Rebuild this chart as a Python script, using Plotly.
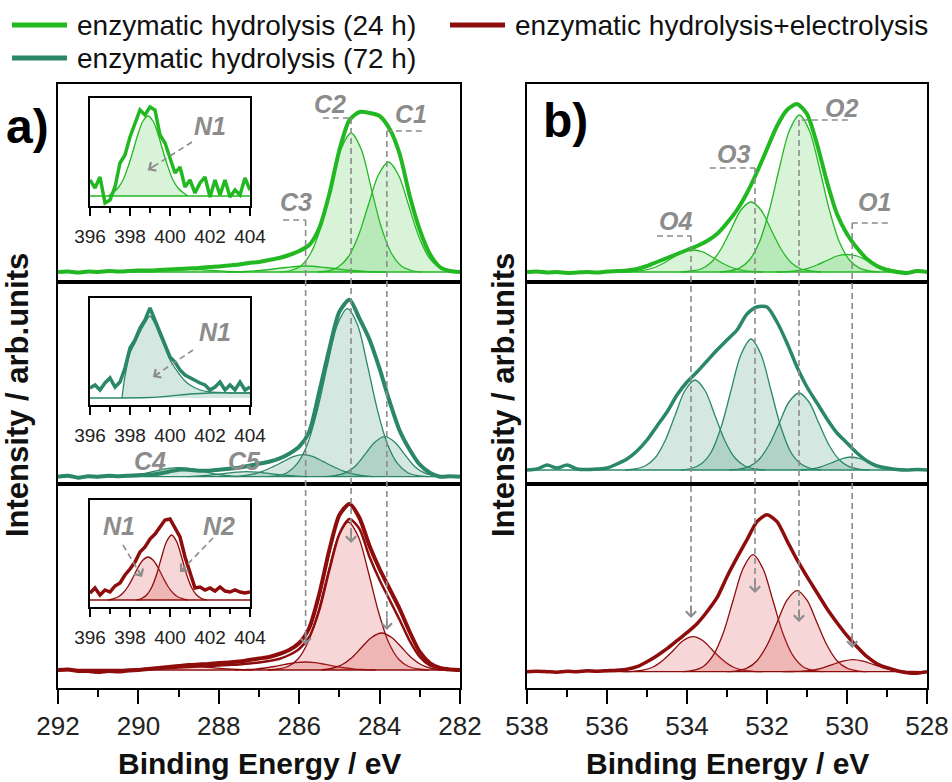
import plotly.graph_objects as go

# ---------------- data (binding energies in eV, intensities in arb. units above baseline) ----------------
BE_C = [292.0, 291.75, 291.5, 291.25, 291.0, 290.75, 290.5, 290.25, 290.0, 289.75, 289.5, 289.25, 289.0,
        288.75, 288.5, 288.25, 288.0, 287.75, 287.5, 287.25, 287.0, 286.75, 286.5, 286.25, 286.0,
        285.75, 285.5, 285.25, 285.0, 284.75, 284.5, 284.25, 284.0, 283.75, 283.5, 283.25, 283.0,
        282.75, 282.5, 282.25, 282.0]
BE_O = [538.0, 537.75, 537.5, 537.25, 537.0, 536.75, 536.5, 536.25, 536.0, 535.75, 535.5, 535.25, 535.0,
        534.75, 534.5, 534.25, 534.0, 533.75, 533.5, 533.25, 533.0, 532.75, 532.5, 532.25, 532.0,
        531.75, 531.5, 531.25, 531.0, 530.75, 530.5, 530.25, 530.0, 529.75, 529.5, 529.25, 529.0,
        528.75, 528.5, 528.25, 528.0]
BE_N = [396.0, 396.25, 396.5, 396.75, 397.0, 397.25, 397.5, 397.75, 398.0, 398.25, 398.5, 398.75, 399.0,
        399.25, 399.5, 399.75, 400.0, 400.25, 400.5, 400.75, 401.0, 401.25, 401.5, 401.75, 402.0,
        402.25, 402.5, 402.75, 403.0, 403.25, 403.5, 403.75, 404.0]

# C 1s envelopes
C_24H = [0, 0.5, -0.5, 0.5, 0, 1, 0.5, 1, 1.5, 1.5, 2, 2.5, 3, 3.5, 4, 5, 5.5, 6.5, 7.5, 9, 10, 12, 14, 17, 21,
         27, 44, 78, 122, 152, 160, 159, 156, 143, 118, 76, 42, 18, 5, 1, 0]
C_72H = [0, 1, -1, 0.5, 0, 1, 0.5, 1, 1.5, 2, 3, 5, 7, 7, 6, 6, 7, 8, 9, 11, 13, 15, 18, 23, 30,
         45, 85, 128, 165, 177, 158, 137, 108, 75, 46, 27, 12, 4, 0, 0.5, 0]
C_EL = [0, 0.5, -1, -1, -2, -1, -1.5, -0.5, 0, 1, 2, 3, 4, 5, 5.5, 6, 7, 7.5, 8.5, 10, 11.5, 13, 16, 20, 27,
        42, 76, 120, 155, 166, 152, 124, 101, 81, 61, 38, 18, 7, 2, 0.5, 0]
C_EL_FIT = [0, 0, 0, 0, 0, 0, 0, 0, 0.5, 1, 1.5, 2, 2.5, 3, 3.5, 4, 4.5, 5, 5.5, 6.5, 7.5, 9, 11, 15, 21,
            33, 60, 100, 136, 151, 141, 113, 90, 70, 50, 29, 13, 4.5, 1.5, 0.5, 0]

# C 1s components, 24 h
C1_24_X = [285.53, 285.28, 285.03, 284.78, 284.53, 284.28, 284.03, 283.78, 283.53, 283.28, 283.03, 282.78, 282.53, 282.28, 282.03]
C1_24_Y = [0, 1, 5, 15, 36, 67, 97, 110, 97, 67, 36, 15, 5, 1, 0]
C2_24_X = [286.46, 286.21, 285.96, 285.71, 285.46, 285.21, 284.96, 284.71, 284.46, 284.21, 283.96, 283.71, 283.46, 283.21, 282.96]
C2_24_Y = [0, 1.5, 6, 19, 45, 84, 123, 139, 123, 84, 45, 19, 6, 1.5, 0]
C3_24_X = [287.84, 287.34, 286.84, 286.34, 285.84, 285.34, 284.84, 284.34, 283.84]
C3_24_Y = [0, 0.5, 2, 4.5, 6, 4.5, 2, 0.5, 0]
C4_24_X = [290.4, 289.9, 289.4, 288.9, 288.4, 287.9, 287.4]
C4_24_Y = [0, 0.8, 2.2, 3, 2.2, 0.8, 0]

# C 1s components, 72 h
C1_72_X = [285.37, 285.12, 284.87, 284.62, 284.37, 284.12, 283.87, 283.62, 283.37, 283.12, 282.87, 282.62, 282.37]
C1_72_Y = [0, 1, 3.5, 10, 22, 34.5, 40, 34.5, 22, 10, 3.5, 1, 0]
C2_72_X = [286.8, 286.55, 286.3, 286.05, 285.8, 285.55, 285.3, 285.05, 284.8, 284.55, 284.3, 284.05, 283.8, 283.55, 283.3, 283.05, 282.8]
C2_72_Y = [0, 1, 4, 13, 32, 66, 111, 152, 168, 152, 111, 66, 32, 13, 4, 1, 0]
C3_72_X = [287.65, 287.4, 287.15, 286.9, 286.65, 286.4, 286.15, 285.9, 285.65, 285.4, 285.15, 284.9, 284.65, 284.4, 284.15]
C3_72_Y = [0, 1, 2.5, 5.5, 10, 15, 20, 22, 20, 15, 10, 5.5, 2.5, 1, 0]
C4_72_X = [290.5, 290.25, 290.0, 289.75, 289.5, 289.25, 289.0, 288.75, 288.5, 288.25, 288.0, 287.75, 287.5]
C4_72_Y = [0, 1, 2.2, 4.1, 6.4, 8.3, 9, 8.3, 6.4, 4.1, 2.2, 1, 0]
C5_72_X = [288.8, 288.55, 288.3, 288.05, 287.8, 287.55, 287.3, 287.05, 286.8, 286.55, 286.3, 286.05, 285.8]
C5_72_Y = [0, 0.5, 1.2, 2.3, 3.5, 4.6, 5, 4.6, 3.5, 2.3, 1.2, 0.5, 0]

# C 1s components, hydrolysis + electrolysis
C1_EL_X = [285.45, 285.2, 284.95, 284.7, 284.45, 284.2, 283.95, 283.7, 283.45, 283.2, 282.95, 282.7, 282.45]
C1_EL_Y = [0, 1.5, 5, 12, 22.5, 32.5, 37, 32.5, 22.5, 12, 5, 1.5, 0]
C2_EL_X = [286.78, 286.53, 286.28, 286.03, 285.78, 285.53, 285.28, 285.03, 284.78, 284.53, 284.28, 284.03, 283.78, 283.53, 283.28, 283.03, 282.78]
C2_EL_Y = [0, 1, 3.5, 11, 28, 58.5, 98, 133.5, 148, 133.5, 98, 58.5, 28, 11, 3.5, 1, 0]
C3_EL_X = [287.6, 287.35, 287.1, 286.85, 286.6, 286.35, 286.1, 285.85, 285.6, 285.35, 285.1, 284.85, 284.6, 284.35, 284.1]
C3_EL_Y = [0, 0.4, 0.9, 2, 3.7, 5.6, 7.3, 8, 7.3, 5.6, 3.7, 2, 0.9, 0.4, 0]
C4_EL_X = [290.65, 290.4, 290.15, 289.9, 289.65, 289.4, 289.15, 288.9, 288.65, 288.4, 288.15, 287.9, 287.65, 287.4, 287.15]
C4_EL_Y = [0, 0.4, 0.8, 1.4, 2.3, 3.1, 3.8, 4, 3.8, 3.1, 2.3, 1.4, 0.8, 0.4, 0]

# O 1s envelopes
O_24H = [0, 0.5, -0.5, 0, -1, -0.5, 0, -0.5, 0.5, 1, 1.5, 3, 6, 10, 14, 18, 22, 26, 31, 38, 49, 62, 79, 100, 123,
         146, 162, 168, 158, 128, 90, 58, 38, 24, 13, 6, 2, 0, -1, 1, 0]
O_72H = [0, 1, 5, 2, 5, 1, 0.5, 1, 2, 6, 11, 19, 30, 44, 58, 75, 88, 98, 109, 120, 130, 140, 156, 163, 163,
         148, 127, 103, 83, 67, 51, 37, 27, 17, 9, 4, 2, 0.5, 0, 0.5, 0]
O_EL = [0, 0.5, 0, -0.5, 0.5, 0, 1, 0.5, 1, 1.5, 2.5, 5, 10, 16, 23, 31, 39, 48, 60, 74, 95, 114, 132, 150, 157,
        150, 131, 112, 95, 79, 63, 49, 36, 25, 15, 8, 4, 1, -1, -1.5, 0]

# O 1s components, 24 h
O1_24_X = [531.75, 531.5, 531.25, 531.0, 530.75, 530.5, 530.25, 530.0, 529.75, 529.5, 529.25, 529.0, 528.75, 528.5, 528.25]
O1_24_Y = [0, 0.4, 1.3, 3.3, 7, 11.5, 16, 17.5, 16, 11.5, 7, 3.3, 1.3, 0.4, 0]
O2_24_X = [533.19, 532.94, 532.69, 532.44, 532.19, 531.94, 531.69, 531.44, 531.19, 530.94, 530.69, 530.44, 530.19, 529.94, 529.69, 529.44, 529.19]
O2_24_Y = [0, 1, 3.8, 12, 30, 62, 104, 141.5, 157, 141.5, 104, 62, 30, 12, 3.8, 1, 0]
O3_24_X = [534.15, 533.9, 533.65, 533.4, 533.15, 532.9, 532.65, 532.4, 532.15, 531.9, 531.65, 531.4, 531.15, 530.9, 530.65]
O3_24_Y = [0, 1, 3, 9.5, 23, 42.5, 62, 70, 62, 42.5, 23, 9.5, 3, 1, 0]
O4_24_X = [535.6, 535.35, 535.1, 534.85, 534.6, 534.35, 534.1, 533.85, 533.6, 533.35, 533.1, 532.85, 532.6, 532.35, 532.1]
O4_24_Y = [0, 0.5, 1.7, 4, 8.5, 14.5, 20, 22, 20, 14.5, 8.5, 4, 1.7, 0.5, 0]

# O 1s components, 72 h
O1_72_X = [531.15, 530.9, 530.65, 530.4, 530.15, 529.9, 529.65, 529.4, 529.15, 528.9, 528.65]
O1_72_Y = [0, 1, 3.2, 7, 11, 13, 11, 7, 3.2, 1, 0]
O2_72_X = [532.95, 532.7, 532.45, 532.2, 531.95, 531.7, 531.45, 531.2, 530.95, 530.7, 530.45, 530.2, 529.95, 529.7, 529.45]
O2_72_Y = [0, 0.9, 3.4, 10.5, 25, 46.5, 68, 77, 68, 46.5, 25, 10.5, 3.4, 0.9, 0]
O3_72_X = [534.15, 533.9, 533.65, 533.4, 533.15, 532.9, 532.65, 532.4, 532.15, 531.9, 531.65, 531.4, 531.15, 530.9, 530.65]
O3_72_Y = [0, 1.5, 6, 17.5, 42.5, 79.5, 115.5, 131, 115.5, 79.5, 42.5, 17.5, 6, 1.5, 0]
O4_72_X = [535.55, 535.3, 535.05, 534.8, 534.55, 534.3, 534.05, 533.8, 533.55, 533.3, 533.05, 532.8, 532.55, 532.3, 532.05]
O4_72_Y = [0, 1, 4, 12, 29, 54.5, 79.5, 90, 79.5, 54.5, 29, 12, 4, 1, 0]

# O 1s components, hydrolysis + electrolysis
O1_EL_X = [531.6, 531.35, 531.1, 530.85, 530.6, 530.35, 530.1, 529.85, 529.6, 529.35, 529.1, 528.85, 528.6, 528.35, 528.1]
O1_EL_Y = [0, 0.2, 0.5, 1.6, 3.9, 7.3, 10.5, 12, 10.5, 7.3, 3.9, 1.6, 0.5, 0.2, 0]
O2_EL_X = [533.0, 532.75, 532.5, 532.25, 532.0, 531.75, 531.5, 531.25, 531.0, 530.75, 530.5, 530.25, 530.0, 529.75, 529.5]
O2_EL_Y = [0, 0.9, 3.5, 11, 26.5, 49, 71.5, 81, 71.5, 49, 26.5, 11, 3.5, 0.9, 0]
O3_EL_X = [534.1, 533.85, 533.6, 533.35, 533.1, 532.85, 532.6, 532.35, 532.1, 531.85, 531.6, 531.35, 531.1, 530.85, 530.6]
O3_EL_Y = [0, 1.3, 5, 16, 38, 71, 103, 117, 103, 71, 38, 16, 5, 1.3, 0]
O4_EL_X = [535.6, 535.35, 535.1, 534.85, 534.6, 534.35, 534.1, 533.85, 533.6, 533.35, 533.1, 532.85, 532.6, 532.35, 532.1]
O4_EL_Y = [0, 0.4, 1.5, 4.7, 11.5, 21, 31, 35, 31, 21, 11.5, 4.7, 1.5, 0.4, 0]

# N 1s insets
N_24H = [16, 8, 19, -7, -4, 9, 33, 41, 59, 73, 86, 81, 89, 86, 61, 53, 39, 23, 29, 9, 16, 3, 13, 19, -1,
         16, 1, 16, -1, 6, 1, 18, 6]
N_72H = [10, 13, 8, 15, 20, 11, 16, 30, 50, 58, 70, 78, 90, 78, 65, 55, 41, 36, 28, 23, 20, 18, 15, 13, 8,
         11, 16, 8, 13, 8, 16, 8, 11]
N_EL = [7, 12, 5, 10, 8, 14, 17, 25, 31, 38, 48, 53, 61, 66, 73, 80, 81, 72, 63, 43, 27, 12, 13, 10, 12,
        9, 13, 9, 8, 10, 8, 7, 8]
N1_24_X = [396.9, 397.15, 397.4, 397.65, 397.9, 398.15, 398.4, 398.65, 398.9, 399.15, 399.4, 399.65, 399.9, 400.15, 400.4, 400.65, 400.9]
N1_24_Y = [0, 3.5, 8, 16, 29, 45, 62, 75, 80, 75, 62, 45, 29, 16, 8, 3.5, 0]
N1_72_X = [397.6, 397.75, 398.0, 398.25, 398.5, 398.75, 399.0, 399.25, 399.5, 399.75, 400.0, 400.25, 400.5, 400.75, 401.0, 401.5, 402.0, 402.5, 403.0, 404.0]
N1_72_Y = [0, 22, 45, 55, 66, 75, 82, 74, 62, 50, 38, 30, 23, 17, 13, 8, 6, 5.5, 5, 5]
N_BASE72_X = [396.0, 399.0, 400.0, 401.0, 402.0, 404.0]
N_BASE72_Y = [0, 0.5, 2, 4, 5, 5]
N1_EL_X = [396.9, 397.15, 397.4, 397.65, 397.9, 398.15, 398.4, 398.65, 398.9, 399.15, 399.4, 399.65, 399.9, 400.15, 400.4, 400.65, 400.9]
N1_EL_Y = [0, 1.2, 3, 7, 13.5, 22.5, 32.5, 40, 43, 40, 32.5, 22.5, 13.5, 7, 3, 1.2, 0]
N2_EL_X = [398.33, 398.58, 398.83, 399.08, 399.33, 399.58, 399.83, 400.08, 400.33, 400.58, 400.83, 401.08, 401.33, 401.58, 401.83]
N2_EL_Y = [0, 1.5, 5, 12.5, 25.5, 43, 58.5, 65, 58.5, 43, 25.5, 12.5, 5, 1.5, 0]

BASE_C_X = [292.0, 282.0]
BASE_O_X = [538.0, 528.0]
BASE_N_X = [396.0, 404.0]
BASE_Y = [0, 0]

SAMPLES = ["enzymatic hydrolysis (24 h)", "enzymatic hydrolysis (72 h)", "enzymatic hydrolysis+electrolysis"]
C_TICKS = [292, 290, 288, 286, 284, 282]
O_TICKS = [538, 536, 534, 532, 530, 528]
N_TICKS = [396, 398, 400, 402, 404]

# ---------------- styling ----------------
W, H = 952, 782
GREEN, TEAL, RED = "#22b822", "#2a8866", "#8e0c0c"
GREEN_F, TEAL_F, RED_F = "rgba(60,195,60,0.20)", "rgba(42,136,102,0.20)", "rgba(215,70,70,0.22)"
GRAY = "#8c8c8c"
FONT = "Liberation Sans, Arial, sans-serif"


def fx(px):
    return px / W


def fy(py):
    return 1 - py / H


fig = go.Figure()


def ax_names(i):
    return ("x" if i == 1 else f"x{i}"), ("y" if i == 1 else f"y{i}")


def comp(xs, ys, i, color, fillc, width=1.3):
    xa, ya = ax_names(i)
    fig.add_trace(go.Scatter(x=xs, y=ys, xaxis=xa, yaxis=ya, mode="lines",
                             line=dict(color=color, width=width, shape="spline", smoothing=0.9),
                             fill="tozeroy", fillcolor=fillc, showlegend=False, hoverinfo="skip"))


def line(xs, ys, i, color, width, shape="spline"):
    xa, ya = ax_names(i)
    fig.add_trace(go.Scatter(x=xs, y=ys, xaxis=xa, yaxis=ya, mode="lines",
                             line=dict(color=color, width=width, shape=shape, smoothing=0.7),
                             showlegend=False, hoverinfo="skip"))


# panel a row 1
for xs, ys in [(C4_24_X, C4_24_Y), (C3_24_X, C3_24_Y), (C2_24_X, C2_24_Y), (C1_24_X, C1_24_Y)]:
    comp(xs, ys, 1, GREEN, GREEN_F)
line(BASE_C_X, BASE_Y, 1, GREEN, 1.3, "linear")
line(BE_C, C_24H, 1, GREEN, 4)
# panel a row 2
for xs, ys in [(C4_72_X, C4_72_Y), (C5_72_X, C5_72_Y), (C3_72_X, C3_72_Y), (C2_72_X, C2_72_Y), (C1_72_X, C1_72_Y)]:
    comp(xs, ys, 2, TEAL, TEAL_F)
line(BASE_C_X, BASE_Y, 2, TEAL, 1.3, "linear")
line(BE_C, C_72H, 2, TEAL, 4)
# panel a row 3
for xs, ys in [(C4_EL_X, C4_EL_Y), (C3_EL_X, C3_EL_Y), (C2_EL_X, C2_EL_Y), (C1_EL_X, C1_EL_Y)]:
    comp(xs, ys, 3, RED, RED_F)
line(BASE_C_X, BASE_Y, 3, RED, 1.3, "linear")
line(BE_C, C_EL_FIT, 3, RED, 2.5)
line(BE_C, C_EL, 3, RED, 4)
# panel b row 1
for xs, ys in [(O4_24_X, O4_24_Y), (O3_24_X, O3_24_Y), (O2_24_X, O2_24_Y), (O1_24_X, O1_24_Y)]:
    comp(xs, ys, 4, GREEN, GREEN_F)
line(BASE_O_X, BASE_Y, 4, GREEN, 1.3, "linear")
line(BE_O, O_24H, 4, GREEN, 4)
# panel b row 2
for xs, ys in [(O4_72_X, O4_72_Y), (O3_72_X, O3_72_Y), (O2_72_X, O2_72_Y), (O1_72_X, O1_72_Y)]:
    comp(xs, ys, 5, TEAL, TEAL_F)
line(BASE_O_X, BASE_Y, 5, TEAL, 1.3, "linear")
line(BE_O, O_72H, 5, TEAL, 3.5)
# panel b row 3
for xs, ys in [(O4_EL_X, O4_EL_Y), (O3_EL_X, O3_EL_Y), (O2_EL_X, O2_EL_Y), (O1_EL_X, O1_EL_Y)]:
    comp(xs, ys, 6, RED, RED_F)
line(BASE_O_X, BASE_Y, 6, RED, 1.3, "linear")
line(BE_O, O_EL, 6, RED, 3.5)
# insets
comp(N1_24_X, N1_24_Y, 7, GREEN, GREEN_F)
line(BASE_N_X, BASE_Y, 7, GREEN, 1.3, "linear")
line(BE_N, N_24H, 7, GREEN, 3.5, "linear")
comp(N1_72_X, N1_72_Y, 8, TEAL, TEAL_F)
line(N_BASE72_X, N_BASE72_Y, 8, TEAL, 1.3, "spline")
line(BE_N, N_72H, 8, TEAL, 3.5, "linear")
comp(N1_EL_X, N1_EL_Y, 9, RED, RED_F)
comp(N2_EL_X, N2_EL_Y, 9, RED, RED_F)
line(BASE_N_X, BASE_Y, 9, RED, 1.3, "linear")
line(BE_N, N_EL, 9, RED, 3.5, "linear")

# ---------------- axes ----------------
ROWS = [(84, 282), (282, 484), (484, 688)]
LEFT, RIGHT = (58, 460), (527, 927)
Y_RANGES = {1: [-10, 188], 2: [-7.3, 194.7], 3: [-18, 186], 4: [-10, 188], 5: [-14, 188], 6: [-16.3, 187.7]}
layout = {}
for i in range(1, 7):
    col = LEFT if i <= 3 else RIGHT
    top, bot = ROWS[(i - 1) % 3]
    bottom_row = (i % 3 == 0)
    xr = [292, 282] if i <= 3 else [538, 528]
    xkey = "xaxis" if i == 1 else f"xaxis{i}"
    ykey = "yaxis" if i == 1 else f"yaxis{i}"
    xa, ya = ax_names(i)
    xd = dict(domain=[fx(col[0]), fx(col[1])], range=xr, anchor=ya, showline=True, mirror=True,
              linecolor="black", linewidth=2, showgrid=False, zeroline=False, automargin=False)
    if bottom_row:
        xd.update(ticks="outside", ticklen=14, tickwidth=2, tickcolor="black",
                  tickvals=C_TICKS if i <= 3 else O_TICKS, showticklabels=True,
                  tickfont=dict(family=FONT, size=26, color="#222"), ticklabelstandoff=0,
                  minor=dict(ticks="outside", ticklen=7, tickwidth=2, tickcolor="black", dtick=1))
    else:
        xd.update(ticks="", showticklabels=False)
    layout[xkey] = xd
    layout[ykey] = dict(domain=[fy(bot), fy(top)], range=Y_RANGES[i], anchor=xa, showline=True, mirror=True,
                        linecolor="black", linewidth=2, showgrid=False, zeroline=False,
                        showticklabels=False, ticks="", automargin=False)

INSETS = {7: ((90, 250), (98, 206), [-10, 98]), 8: ((90, 250), (298, 405), [-7, 100]),
          9: ((90, 250), (500, 607), [-7, 100])}
for i, (xp, yp, yr) in INSETS.items():
    xa, ya = ax_names(i)
    layout[f"xaxis{i}"] = dict(domain=[fx(xp[0]), fx(xp[1])], range=[396, 404], anchor=ya, showline=True,
                               mirror=True, linecolor="black", linewidth=2, showgrid=False, zeroline=False,
                               ticks="outside", ticklen=8, tickwidth=2, tickcolor="black", tickvals=N_TICKS,
                               tickfont=dict(family=FONT, size=19, color="#222"), ticklabelstandoff=4,
                               minor=dict(ticks="outside", ticklen=5, tickwidth=2, tickcolor="black", dtick=1),
                               automargin=False)
    layout[f"yaxis{i}"] = dict(domain=[fy(yp[1]), fy(yp[0])], range=yr, anchor=xa, showline=True, mirror=True,
                               linecolor="black", linewidth=2, showgrid=False, zeroline=False,
                               showticklabels=False, ticks="", automargin=False)

# ---------------- guides, labels ----------------
shapes, annos = [], []
DASH = dict(color=GRAY, width=1.6, dash="6px,4px")
# (centre eV, bracket end eV, bracket y px, arrow head y px)
GUIDES_C = [(285.84, 286.40, 220, 645), (284.71, 285.41, 118, 543), (283.82, 282.95, 131, 630)]
GUIDES_O = [(533.90, 534.75, 236, 618), (532.30, 533.43, 168, 593), (531.20, 529.98, 120, 622), (529.87, 528.98, 223, 648)]
for guides, xref_top, xref_bot in [(GUIDES_C, "x", "x3"), (GUIDES_O, "x4", "x6")]:
    for c, e, ys, yh in guides:
        shapes.append(dict(type="line", xref=xref_top, yref="paper", x0=e, x1=c, y0=fy(ys), y1=fy(ys), line=DASH))
        shapes.append(dict(type="line", xref=xref_top, yref="paper", x0=c, x1=c, y0=fy(ys), y1=fy(yh - 4), line=DASH))
        annos.append(dict(xref=xref_bot, yref="paper", x=c, y=fy(yh), ax=0, ay=-14, text="", showarrow=True,
                          arrowhead=4, arrowsize=1.1, arrowwidth=1.8, arrowcolor=GRAY))

# inset dashed arrows (from px, to px)
for (x0, y0), (x1, y1) in [((192, 142), (148, 170)), ((193, 350), (153, 377)),
                           ((123, 545), (142, 577)), ((213, 538), (180, 572))]:
    shapes.append(dict(type="line", xref="paper", yref="paper", x0=fx(x0), y0=fy(y0), x1=fx(x1), y1=fy(y1), line=DASH))
    dx, dy = x0 - x1, y0 - y1
    n = (dx * dx + dy * dy) ** 0.5
    annos.append(dict(xref="paper", yref="paper", x=fx(x1), y=fy(y1), ax=dx / n * 10, ay=dy / n * 10, text="",
                      showarrow=True, arrowhead=4, arrowsize=1.1, arrowwidth=1.8, arrowcolor=GRAY))

PEAK_LABELS = [("C2", 330, 104), ("C1", 411, 114), ("C3", 296, 202), ("C4", 150, 461), ("C5", 245, 461),
               ("O4", 675, 221), ("O3", 733, 154), ("O2", 841, 108), ("O1", 874, 202),
               ("N1", 210, 126), ("N1", 215, 332), ("N1", 119, 526), ("N2", 219, 526)]
for t, px, py in PEAK_LABELS:
    annos.append(dict(xref="paper", yref="paper", x=fx(px), y=fy(py), text=f"<b><i>{t}</i></b>", showarrow=False,
                      font=dict(family=FONT, size=25, color=GRAY), xanchor="center", yanchor="middle"))

for t, px, py in [("a)", 27, 127), ("b)", 565, 121)]:
    annos.append(dict(xref="paper", yref="paper", x=fx(px), y=fy(py), text=f"<b>{t}</b>", showarrow=False,
                      font=dict(family=FONT, size=48, color="black"), xanchor="center", yanchor="middle"))

for px in (17, 503):
    annos.append(dict(xref="paper", yref="paper", x=fx(px), y=fy(395), text="<b>Intensity / arb.units</b>",
                      textangle=-90, showarrow=False, font=dict(family=FONT, size=31, color="#111"),
                      xanchor="center", yanchor="middle"))
for px in (259, 727):
    annos.append(dict(xref="paper", yref="paper", x=fx(px), y=fy(763), text="<b>Binding Energy / eV</b>",
                      showarrow=False, font=dict(family=FONT, size=30, color="#111"),
                      xanchor="center", yanchor="middle"))

# legend (drawn manually to reproduce the 2-row arrangement)
for (label, color), (lx0, lx1, ly) in zip([(SAMPLES[0], GREEN), (SAMPLES[2], RED), (SAMPLES[1], TEAL)],
                                           [(12, 67, 25), (450, 505, 25), (12, 67, 58)]):
    shapes.append(dict(type="line", xref="paper", yref="paper", x0=fx(lx0), x1=fx(lx1), y0=fy(ly), y1=fy(ly),
                       line=dict(color=color, width=5)))
    annos.append(dict(xref="paper", yref="paper", x=fx(lx1 + 8), y=fy(ly), text=label, showarrow=False,
                      font=dict(family=FONT, size=28, color="#111"), xanchor="left", yanchor="middle"))

fig.update_layout(width=W, height=H, margin=dict(l=0, r=0, t=0, b=0), paper_bgcolor="white",
                  plot_bgcolor="white", showlegend=False, shapes=shapes, annotations=annos, **layout)
fig.write_html("out.html", config={"displayModeBar": False},
               post_script="document.body.style.margin='0';document.body.style.overflow='hidden';")
